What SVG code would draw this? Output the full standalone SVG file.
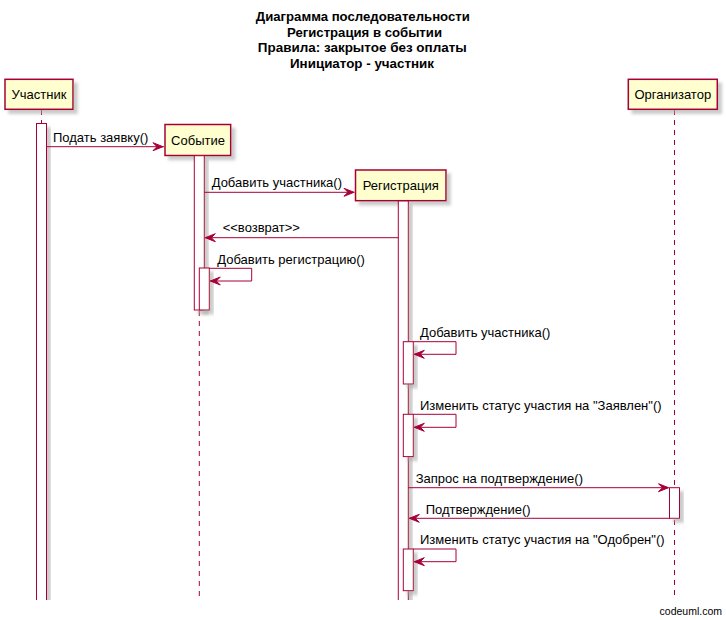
<svg xmlns="http://www.w3.org/2000/svg" width="726" height="620" viewBox="0 0 726 620">
<style>
.part{fill:#FEFECE;stroke:#A80036;stroke-width:1.5;filter:url(#sh)}
.act{fill:#FFFFFF;stroke:#A80036;stroke-width:1;filter:url(#sh)}
.life{stroke:#A80036;stroke-width:1;stroke-dasharray:5,5;fill:none}
.msg{stroke:#A80036;stroke-width:1;fill:none}
.head{fill:#A80036;stroke:#A80036;stroke-width:1}
.t{font-family:"Liberation Sans",Arial,sans-serif;font-size:13px;fill:#000}
.pn{font-family:"Liberation Sans",Arial,sans-serif;font-size:13px;fill:#000;text-anchor:middle}
.title{font-family:"Liberation Sans",Arial,sans-serif;font-size:13.5px;font-weight:bold;fill:#000;text-anchor:middle}
</style>
<defs>
<filter id="sh" x="-20%" y="-20%" width="160%" height="160%">
<feGaussianBlur in="SourceAlpha" stdDeviation="1.7"/>
<feOffset dx="4" dy="4" result="b"/>
<feColorMatrix in="b" type="matrix" values="0 0 0 0 0.4  0 0 0 0 0.4  0 0 0 0 0.4  0 0 0 0.6 0" result="c"/>
<feMerge><feMergeNode in="c"/><feMergeNode in="SourceGraphic"/></feMerge>
</filter>
<clipPath id="clip"><rect x="0" y="0" width="726" height="600"/></clipPath>
</defs>
<rect x="0" y="0" width="726" height="620" fill="#FFFFFF"/>
<g id="title">
<text class="title" x="362.8" y="21" textLength="214" lengthAdjust="spacingAndGlyphs">Диаграмма последовательности</text>
<text class="title" x="364.5" y="36.5" textLength="155" lengthAdjust="spacingAndGlyphs">Регистрация в событии</text>
<text class="title" x="362.3" y="52" textLength="209" lengthAdjust="spacingAndGlyphs">Правила: закрытое без оплаты</text>
<text class="title" x="362" y="67.5" textLength="144" lengthAdjust="spacingAndGlyphs">Инициатор - участник</text>
</g>
<g clip-path="url(#clip)">
<g id="lifelines">
<line class="life" x1="41.5" y1="110" x2="41.5" y2="123"/>
<line class="life" x1="199.3" y1="311" x2="199.3" y2="600"/>
<line class="life" x1="674.5" y1="110" x2="674.5" y2="600"/>
</g>
<g id="participant-uchastnik">
<rect class="part" x="5" y="79.3" width="68" height="30"/>
<text class="pn" x="39" y="98.5">Участник</text>
<rect class="act" x="36.5" y="123.5" width="10" height="490"/>
</g>
<g id="participant-sobytie">
<rect class="part" x="165" y="124.5" width="65.7" height="31"/>
<text class="pn" x="198" y="144.5">Событие</text>
<rect class="act" x="194.3" y="155.7" width="10" height="154.3"/>
<rect class="act" x="199.3" y="268" width="10" height="42"/>
</g>
<g id="participant-registratsiya">
<rect class="part" x="355.5" y="170" width="90.5" height="30.7"/>
<text class="pn" x="400.7" y="190">Регистрация</text>
<rect class="act" x="398.3" y="201" width="10" height="420"/>
<rect class="act" x="403.3" y="341.7" width="10" height="42.3"/>
<rect class="act" x="403.3" y="414.3" width="10" height="42.3"/>
<rect class="act" x="403.3" y="549" width="10" height="41.7"/>
</g>
<g id="participant-organizator">
<rect class="part" x="628.3" y="79.3" width="89" height="30"/>
<text class="pn" x="672.8" y="98.5">Организатор</text>
<rect class="act" x="669.5" y="487.7" width="10" height="30.6"/>
</g>
<g id="connectors">
<line class="msg" x1="46.5" y1="146.7" x2="164" y2="146.7"/>
<polygon class="head" points="153,142.7 163,146.7 153,150.7 157,146.7"/>
<line class="msg" x1="204.3" y1="192.3" x2="354.5" y2="192.3"/>
<polygon class="head" points="344,188.3 354,192.3 344,196.3 348,192.3"/>
<line class="msg" x1="398.3" y1="237.7" x2="205.3" y2="237.7"/>
<polygon class="head" points="215.3,233.7 205.3,237.7 215.3,241.7 211.3,237.7"/>
<polyline class="msg" points="209.3,268.3 251.7,268.3 251.7,281 210.3,281"/>
<polygon class="head" points="220.3,277 210.3,281 220.3,285 216.3,281"/>
<polyline class="msg" points="413.3,341.7 456,341.7 456,354.3 414.3,354.3"/>
<polygon class="head" points="424.3,350.3 414.3,354.3 424.3,358.3 420.3,354.3"/>
<polyline class="msg" points="413.3,414.3 456,414.3 456,427.3 414.3,427.3"/>
<polygon class="head" points="424.3,423.3 414.3,427.3 424.3,431.3 420.3,427.3"/>
<line class="msg" x1="408.3" y1="487.7" x2="668.5" y2="487.7"/>
<polygon class="head" points="658.5,483.7 668.5,487.7 658.5,491.7 662.5,487.7"/>
<line class="msg" x1="669.5" y1="518.3" x2="409.3" y2="518.3"/>
<polygon class="head" points="419.3,514.3 409.3,518.3 419.3,522.3 415.3,518.3"/>
<polyline class="msg" points="413.3,549 456,549 456,561.7 414.3,561.7"/>
<polygon class="head" points="424.3,557.7 414.3,561.7 424.3,565.7 420.3,561.7"/>
</g>
<g id="labels">
<text class="t" x="53" y="142">Подать заявку()</text>
<text class="t" x="211.7" y="187">Добавить участника()</text>
<text class="t" x="222.7" y="232">&lt;&lt;возврат&gt;&gt;</text>
<text class="t" x="217.3" y="263.5">Добавить регистрацию()</text>
<text class="t" x="420" y="336.5">Добавить участника()</text>
<text class="t" x="420" y="410">Изменить статус участия на "Заявлен"()</text>
<text class="t" x="415.7" y="483">Запрос на подтверждение()</text>
<text class="t" x="425.7" y="513.5">Подтверждение()</text>
<text class="t" x="420" y="543.5">Изменить статус участия на "Одобрен"()</text>
</g>
</g>
<text x="722" y="615" text-anchor="end" font-family="Liberation Sans,Arial,sans-serif" font-size="10.5" fill="#000">codeuml.com</text>
</svg>
